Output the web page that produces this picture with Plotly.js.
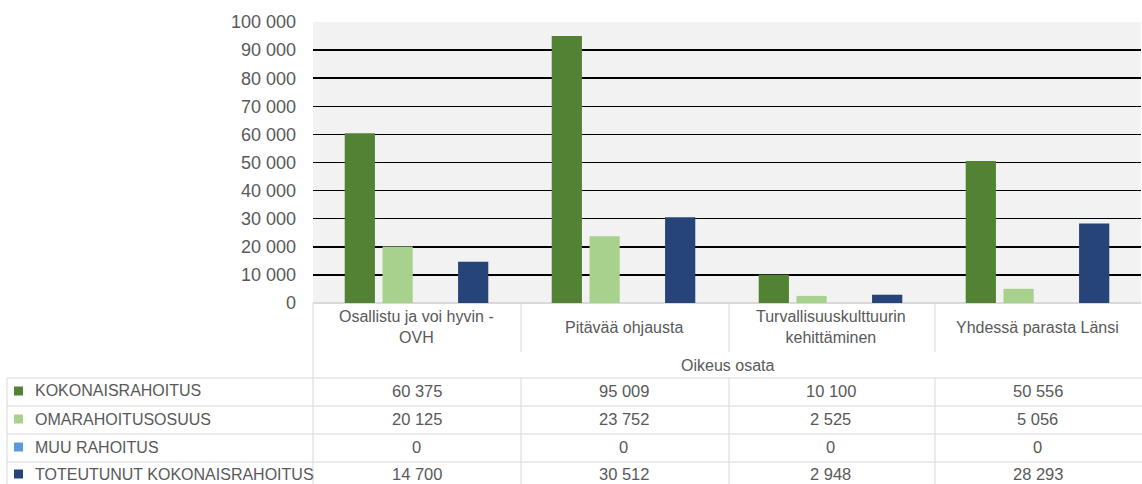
<!DOCTYPE html>
<html>
<head>
<meta charset="utf-8">
<script src="https://cdn.plot.ly/plotly-3.0.1.min.js"></script>
<style>html,body{margin:0;padding:0;background:#fff;}#chart{width:1142px;height:484px;}</style>
</head>
<body>
<div id="chart"></div>
<script>
const categories = ["Osallistu ja voi hyvin - OVH", "Pitävää ohjausta", "Turvallisuuskulttuurin kehittäminen", "Yhdessä parasta Länsi"];
const categoryLabels = ["Osallistu ja voi hyvin -<br>OVH", "Pitävää ohjausta", "Turvallisuuskulttuurin<br>kehittäminen", "Yhdessä parasta Länsi"];
const groupLabel = "Oikeus osata";
const seriesNames = ["KOKONAISRAHOITUS", "OMARAHOITUSOSUUS", "MUU RAHOITUS", "TOTEUTUNUT KOKONAISRAHOITUS"];
const kokonaisrahoitus = [60375, 95009, 10100, 50556];
const omarahoitusosuus = [20125, 23752, 2525, 5056];
const muuRahoitus = [0, 0, 0, 0];
const toteutunut = [14700, 30512, 2948, 28293];
const seriesColors = ["#548235", "#a9d18e", "#5b9bd5", "#264478"];
const yTicks = [0, 10000, 20000, 30000, 40000, 50000, 60000, 70000, 80000, 90000, 100000];

const seriesValues = [kokonaisrahoitus, omarahoitusosuus, muuRahoitus, toteutunut];

const FONT = "'Liberation Sans Narrow', 'Arial Narrow', 'Liberation Sans', sans-serif";
const TXT = "#595959";
const LINE = "#d9d9d9";

// plot-area pixel geometry
const L = 313, R = 1141, T = 22, B = 303;
const px = x => (x - L) / (R - L);
const py = y => (B - y) / (B - T);

function fmt(v) {
  return String(v).replace(/\B(?=(\d{3})+(?!\d))/g, " ");
}

const traces = seriesNames.map((name, i) => ({
  type: "bar",
  name: name,
  x: categories,
  y: seriesValues[i],
  marker: {color: seriesColors[i]},
  hoverinfo: "none"
}));

const shapes = [];
const annotations = [];
function hline(x0, x1, y) {
  shapes.push({type: "line", xref: "paper", yref: "paper", x0: px(x0), x1: px(x1), y0: py(y), y1: py(y), line: {color: LINE, width: 1}});
}
function vline(x, y0, y1) {
  shapes.push({type: "line", xref: "paper", yref: "paper", x0: px(x), x1: px(x), y0: py(y0), y1: py(y1), line: {color: LINE, width: 1}});
}

const colEdges = [313, 521, 729, 935, 1142];
const rowLines = [378, 406, 434, 462];
const rowCenters = [391, 419, 447, 474];

// table grid
vline(313, 303, 484);
for (let k = 1; k < 4; k++) { vline(colEdges[k], 303, 352); vline(colEdges[k], 378, 484); }
vline(7, 378, 484);
rowLines.forEach(y => hline(7, 1142, y));

// category labels
categories.forEach((c, k) => {
  annotations.push({xref: "x", yref: "paper", x: c, y: py(327), text: categoryLabels[k], showarrow: false,
    xanchor: "center", yanchor: "middle", align: "center", font: {family: FONT, size: 16, color: TXT}});
});
annotations.push({xref: "paper", yref: "paper", x: px(727), y: py(365), text: groupLabel, showarrow: false,
  xanchor: "center", yanchor: "middle", font: {family: FONT, size: 16, color: TXT}});

// rows
seriesNames.forEach((name, i) => {
  const yc = rowCenters[i];
  shapes.push({type: "rect", xref: "paper", yref: "paper", x0: px(14), x1: px(23), y0: py(yc - 4.5), y1: py(yc + 4.5),
    fillcolor: seriesColors[i], line: {width: 0}});
  annotations.push({xref: "paper", yref: "paper", x: px(33), y: py(yc), text: name, showarrow: false,
    xanchor: "left", yanchor: "middle", font: {family: FONT, size: 16, color: TXT}});
  seriesValues[i].forEach((v, k) => {
    annotations.push({xref: "x", yref: "paper", x: categories[k], y: py(yc), text: fmt(v), showarrow: false,
      xanchor: "center", yanchor: "middle", font: {family: FONT, size: 16.5, color: TXT}});
  });
});

const layout = {
  width: 1142, height: 484,
  margin: {l: L, r: 1142 - R, t: T, b: 484 - B, pad: 0},
  paper_bgcolor: "#ffffff",
  plot_bgcolor: "#f2f2f2",
  barmode: "group",
  bargap: 0.27,
  bargroupgap: 0.2,
  showlegend: false,
  separators: ", ",
  xaxis: {showticklabels: false, showgrid: false, zeroline: false, showline: true, linecolor: LINE, linewidth: 1, ticks: "", fixedrange: true},
  yaxis: {range: [0, 100000], tickvals: yTicks, tickformat: ",d", showgrid: true, gridcolor: "#000000", gridwidth: 1.5,
    zeroline: true, zerolinecolor: LINE, zerolinewidth: 1.5, showline: false, ticks: "", ticklabelstandoff: 16,
    tickfont: {family: FONT, size: 18, color: TXT}, fixedrange: true},
  shapes: shapes,
  annotations: annotations
};

Plotly.newPlot("chart", traces, layout, {displayModeBar: false, staticPlot: true});
</script>
</body>
</html>
